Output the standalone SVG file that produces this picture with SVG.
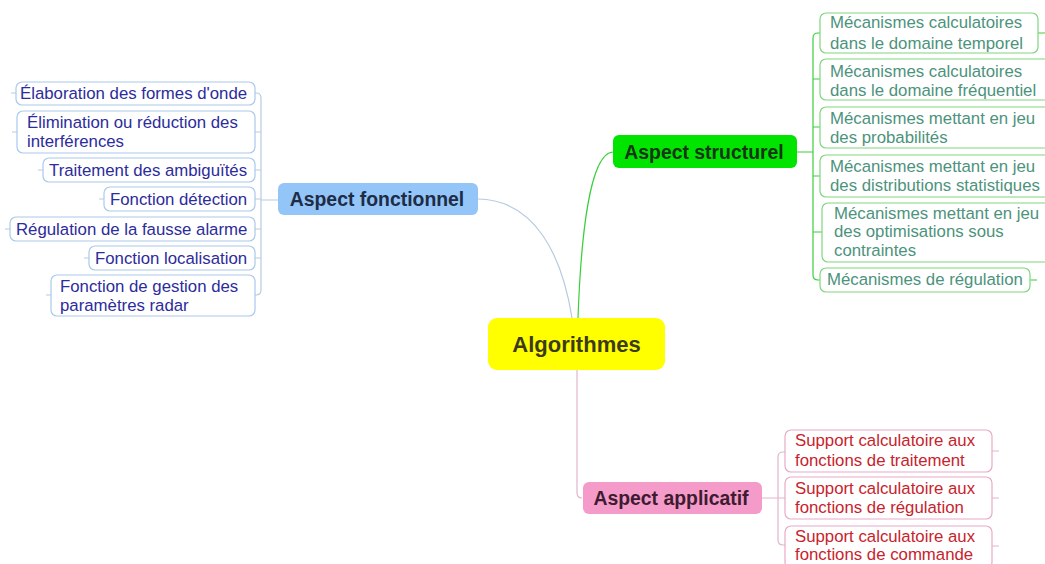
<svg xmlns="http://www.w3.org/2000/svg" width="1045" height="564" viewBox="0 0 1045 564">
<style>
text{font-family:"Liberation Sans",Arial,sans-serif}
.sub{font-size:16.8px}
.main{font-size:19.4px;font-weight:bold;text-anchor:middle}
.bb{fill:#fff;stroke:#a9c9ec;stroke-width:1.2}
.gb{fill:#fff;stroke:#7fd67f;stroke-width:1.2}
.rb{fill:#fff;stroke:#e9aac6;stroke-width:1.2}
.bt{fill:#2c2c9c}
.gt{fill:#4c937c}
.rt{fill:#c8232c}
.bc{fill:none;stroke:#b6cbe2;stroke-width:1.2}
.gc{fill:none;stroke:#3ccf3c;stroke-width:1.2}
.rc{fill:none;stroke:#e4b4cb;stroke-width:1.2}
</style>
<rect width="1045" height="564" fill="#fff"/>
<g id="connectors">
<path class="bc" d="M572,318 C562,255 535,200 478,199"/>
<path class="gc" d="M578,318 C581,235 590,153 613,152"/>
<path class="rc" d="M577,370 L577,493 Q577,498 582,498"/>
<path class="bc" d="M278,200 L261,200 M255,93 L256,93 Q261,93 261,98 L261,290 Q261,295 256,295 L255,295 M255,132 L261,132 M255,170 L261,170 M255,199 L261,199 M255,229 L261,229 M255,258 L261,258"/>
<path class="bc" d="M11,93 L16,93 M12,132 L17,132 M38,170 L43,170 M99,199 L104,199 M5,229 L10,229 M84,258 L89,258 M46,295 L51,295"/>
<path class="gc" d="M797,152 L813,152 M820,33 L818,33 Q813,33 813,38 L813,275 Q813,280 818,280 L820,280 M813,79 L820,79 M813,127 L820,127 M813,176 L822,176 M813,232 L822,232"/>
<path class="gc" d="M1038,33 L1045,33 M1030,280 L1037,280"/>
<path class="rc" d="M762,498 L778,498 M785,452 L783,452 Q778,452 778,457 L778,540 Q778,545 783,545 L785,545 M778,498 L785,498"/>
<path class="rc" d="M992,451 L999,451 M992,498 L999,498 M992,546 L999,546"/>
</g>
<g id="algorithmes">
<rect x="488" y="318" width="177" height="52" rx="9" fill="#ffff00"/>
<text class="main" x="576.5" y="352" style="font-size:22px" fill="#3b3b1c">Algorithmes</text>
</g>
<g id="aspect-fonctionnel">
<rect x="278" y="183" width="200" height="32" rx="6" fill="#93c5f8"/>
<text class="main" x="377" y="206" fill="#1e2c46">Aspect fonctionnel</text>
</g>
<g id="aspect-structurel">
<rect x="613" y="135" width="184" height="33" rx="6" fill="#00e400"/>
<text class="main" x="704" y="159" fill="#163516">Aspect structurel</text>
</g>
<g id="aspect-applicatif">
<rect x="583" y="482" width="179" height="32" rx="6" fill="#f59bc9"/>
<text class="main" x="671" y="505" fill="#3d1b30">Aspect applicatif</text>
</g>
<g id="f1"><rect class="bb" x="16" y="82" width="239" height="23" rx="6"/><text class="sub bt" x="20" y="99">Élaboration des formes d'onde</text></g>
<g id="f2"><rect class="bb" x="17" y="111" width="238" height="42" rx="6"/><text class="sub bt" x="27" y="128">Élimination ou réduction des</text><text class="sub bt" x="27" y="147">interférences</text></g>
<g id="f3"><rect class="bb" x="43" y="158" width="212" height="24" rx="6"/><text class="sub bt" x="49" y="176">Traitement des ambiguïtés</text></g>
<g id="f4"><rect class="bb" x="104" y="187" width="151" height="24" rx="6"/><text class="sub bt" x="110" y="205">Fonction détection</text></g>
<g id="f5"><rect class="bb" x="10" y="217" width="245" height="24" rx="6"/><text class="sub bt" x="16" y="235">Régulation de la fausse alarme</text></g>
<g id="f6"><rect class="bb" x="89" y="246" width="166" height="24" rx="6"/><text class="sub bt" x="95" y="264">Fonction localisation</text></g>
<g id="f7"><rect class="bb" x="51" y="275" width="204" height="41" rx="6"/><text class="sub bt" x="60" y="292">Fonction de gestion des</text><text class="sub bt" x="60" y="311">paramètres radar</text></g>
<g id="s1"><rect class="gb" x="820" y="13" width="218" height="40" rx="6"/><text class="sub gt" x="830" y="28">Mécanismes calculatoires</text><text class="sub gt" x="830" y="49">dans le domaine temporel</text></g>
<g id="s2"><rect class="gb" x="820" y="59" width="232" height="41" rx="6"/><text class="sub gt" x="830" y="77">Mécanismes calculatoires</text><text class="sub gt" x="830" y="96">dans le domaine fréquentiel</text></g>
<g id="s3"><rect class="gb" x="820" y="107" width="232" height="41" rx="6"/><text class="sub gt" x="830" y="124">Mécanismes mettant en jeu</text><text class="sub gt" x="830" y="143">des probabilités</text></g>
<g id="s4"><rect class="gb" x="820" y="155" width="232" height="42" rx="6"/><text class="sub gt" x="830" y="172">Mécanismes mettant en jeu</text><text class="sub gt" x="830" y="191">des distributions statistiques</text></g>
<g id="s5"><rect class="gb" x="822" y="203" width="230" height="59" rx="6"/><text class="sub gt" x="834" y="219">Mécanismes mettant en jeu</text><text class="sub gt" x="834" y="237">des optimisations sous</text><text class="sub gt" x="834" y="256">contraintes</text></g>
<g id="s6"><rect class="gb" x="820" y="268" width="210" height="24" rx="6"/><text class="sub gt" x="827" y="285">Mécanismes de régulation</text></g>
<g id="a1"><rect class="rb" x="785" y="430" width="207" height="42" rx="6"/><text class="sub rt" x="795" y="446">Support calculatoire aux</text><text class="sub rt" x="795" y="466">fonctions de traitement</text></g>
<g id="a2"><rect class="rb" x="785" y="477" width="207" height="42" rx="6"/><text class="sub rt" x="795" y="494">Support calculatoire aux</text><text class="sub rt" x="795" y="513">fonctions de régulation</text></g>
<g id="a3"><rect class="rb" x="785" y="526" width="207" height="42" rx="6"/><text class="sub rt" x="795" y="542">Support calculatoire aux</text><text class="sub rt" x="795" y="560">fonctions de commande</text></g>
</svg>
